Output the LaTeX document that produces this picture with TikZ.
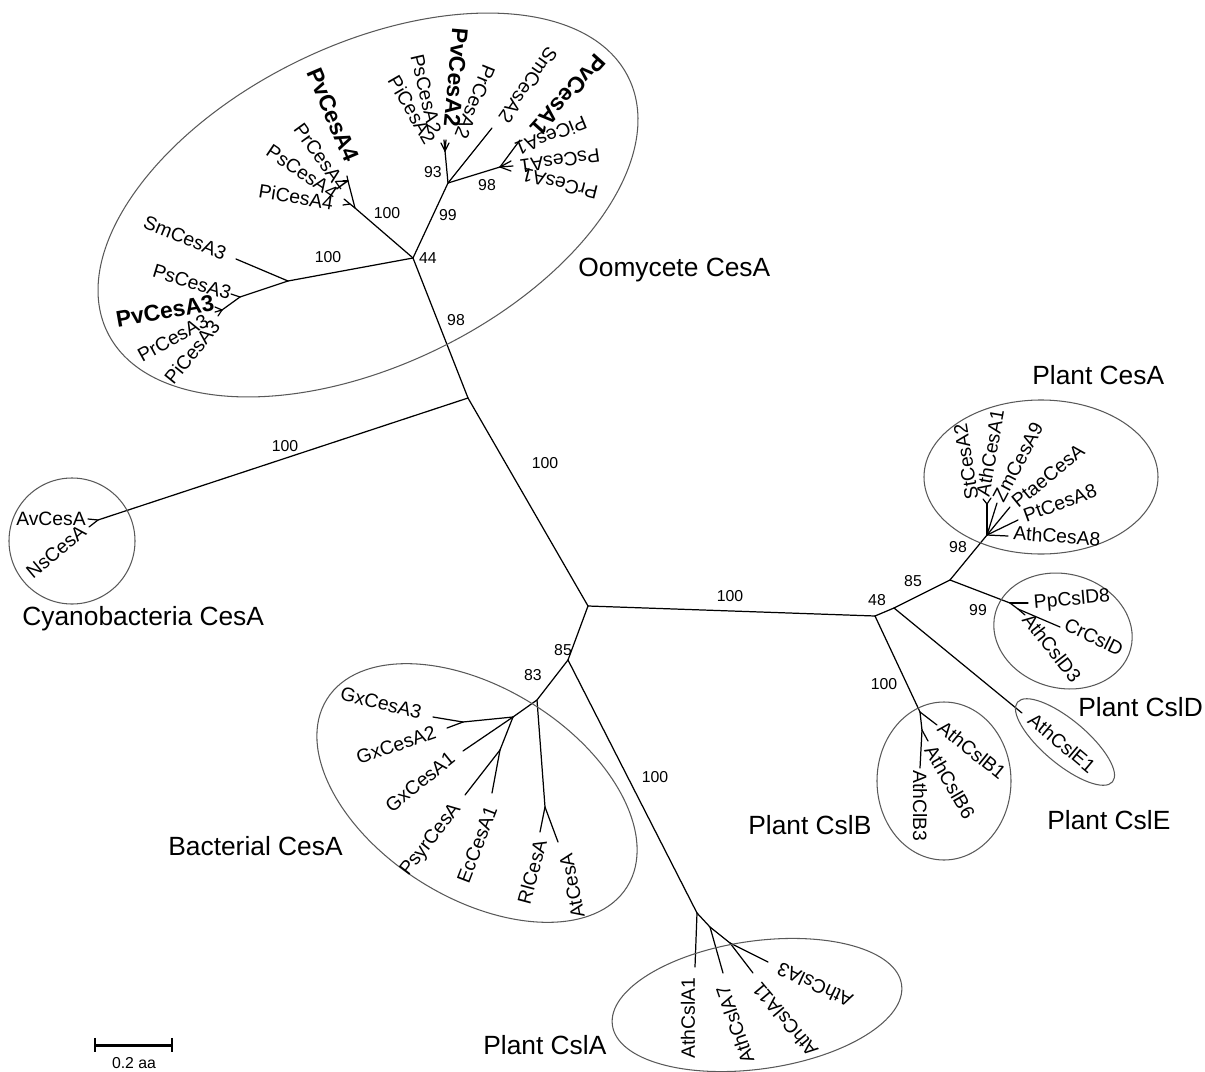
\documentclass[tikz,border=0pt]{standalone}
\usepackage{fontspec}
\setmainfont{Liberation Sans}

\tikzset{
  branch/.style={line width=0.7pt, line cap=round, line join=round},
  clade/.style={black!65, line width=0.6pt},
  leaf/.style={inner sep=0pt, font=\fontsize{11}{11}\selectfont},
  leafbold/.style={inner sep=0pt, font=\fontsize{13}{13}\selectfont\bfseries},
  boot/.style={inner sep=0pt, font=\fontsize{9}{9}\selectfont},
  group/.style={inner sep=0pt, anchor=west, font=\fontsize{15}{15}\selectfont},
}

\begin{document}
\begin{tikzpicture}[x=0.02cm, y=-0.02cm]
    \useasboundingbox (0,0) rectangle (1205,1072);

    % 分岐点と末端
    \foreach \n/\x/\y in {C/588/606, U/468/398, O/413/258, CY/98/520, tAv/88/519, tNs/89/527,
        S3/288/281, tSmA3/236/259, P3a/240/297, tPsA3/231/294, P3b/222/310, tPvA3/215/307, tPrA3/215/312, tPiA3/218/316,
        A4/355/208, A4a/348/181, tPvA4/347/176, tPrA4/343/181, A4b/350/204, tPsA4/344/199, tPiA4/343/205,
        A12/448/183, A2/445/151, tPiA2/441/143, tPsA2/444/140, tPvA2/446/140, tPrA2/449/143, tSmA2/492/128,
        B1/500/167, tPvA1/520/140, tPiA1/511/161, tPsA1/513/166, tPrA1/511/171,
        R1/875/616, R2/894/608, R85/950/580, PC/987/535, PCa/987/504, tStA2/983/499, tAthA1/991/498,
        tZmA9/997/503, tPtaeA/1010/507, tPtA8/1018/520, tAthA8/1008/536,
        DD/1010/603, tPpD8/1028/603, DDa/1018/609, tCrD/1060/627, tAthD3/1025/615,
        tE1/1022/713, CB1/920/712, tB1/937/725, CB2/922/730, tB6/928/741, tB3/920/768,
        D/568/660, B/537/700, G/513/717, Gx32/463/722, tGxA3/433/717, tGxA2/447/728, tGxA1/463/751,
        E/500/750, tPsyr/465/795, tEc/492/793, Rn/545/807, tRl/540/832, tAt/558/842,
        A1/697/913, tA1/695/967, A7n/710/927, tA7/723/973, A11n/730/943, tA11/753/973, tA3/768/962}
        \coordinate (\n) at (\x,\y);

    % 枝
    \foreach \a/\b in {C/U, U/O, U/CY, CY/tAv, CY/tNs,
        O/S3, S3/tSmA3, S3/P3a, P3a/tPsA3, P3a/P3b, P3b/tPvA3, P3b/tPrA3, P3b/tPiA3,
        O/A4, A4/A4a, A4a/tPvA4, A4a/tPrA4, A4/A4b, A4b/tPsA4, A4b/tPiA4,
        O/A12, A12/A2, A2/tPiA2, A2/tPsA2, A2/tPvA2, A2/tPrA2, A12/tSmA2,
        A12/B1, B1/tPvA1, B1/tPiA1, B1/tPsA1, B1/tPrA1,
        C/R1, R1/R2, R2/R85, R85/PC, PC/PCa, PCa/tStA2, PCa/tAthA1,
        PC/tZmA9, PC/tPtaeA, PC/tPtA8, PC/tAthA8,
        R85/DD, DD/tPpD8, DD/DDa, DDa/tCrD, DDa/tAthD3,
        R2/tE1, R1/CB1, CB1/tB1, CB1/CB2, CB2/tB6, CB2/tB3,
        C/D, D/B, B/G, G/Gx32, Gx32/tGxA3, Gx32/tGxA2, G/tGxA1, G/E, E/tPsyr, E/tEc,
        B/Rn, Rn/tRl, Rn/tAt,
        D/A1, A1/tA1, A1/A7n, A7n/tA7, A7n/A11n, A11n/tA11, A11n/tA3}
        \draw[branch] (\a) -- (\b);

    % クレードの楕円
    \draw[clade, rotate around={26:(368,205)}] (368,205) ellipse [x radius=290, y radius=160];
    \draw[clade] (72,541) circle [radius=63];
    \draw[clade, rotate around={-32:(477,793)}] (477,793) ellipse [x radius=177, y radius=105];
    \draw[clade, rotate around={8:(757,1005)}] (757,1005) ellipse [x radius=146, y radius=64];
    \draw[clade] (1041,477) ellipse [x radius=117, y radius=77];
    \draw[clade, rotate around={-15:(1063,631)}] (1063,631) ellipse [x radius=70, y radius=57];
    \draw[clade, rotate around={-40:(1065,742)}] (1065,742) ellipse [x radius=62, y radius=22];
    \draw[clade] (944,781) ellipse [x radius=67, y radius=79];

    % 配列名
    \foreach \x/\y/\a/\t in {185/238/-22/SmCesA3, 192/282/-17/PsCesA3, 173/338/29/PrCesA3, 192/352/51/PiCesA3,
        296/197/-9/PiCesA4, 302/172/-34/PsCesA4, 321/157/-54/PrCesA4,
        412/110/-60/PiCesA2, 426/94/-77/PsCesA2, 475/102/-112/PrCesA2, 528/85/-125/SmCesA2,
        551/136/-158/PiCesA1, 560/161/-172/PsCesA1, 560/184/166/PrCesA1,
        51/519/0/AvCesA, 56/552/40/NsCesA,
        381/703/-14/GxCesA3, 396/745/19/GxCesA2, 420/782/39/GxCesA1, 431/840/52/PsyrCesA,
        477/845/69/EcCesA1, 532/872/75/RlCesA, 572/886/101/AtCesA,
        688/1018/90/AthCslA1, 735/1025/109/AthCslA7, 785/1020/130/AthCslA11, 815/985/155/AthCslA3,
        966/462/99/StCesA2, 990/453/80/AthCesA1, 1018/462/62/ZmCesA9, 1048/476/39/PtaeCesA,
        1060/503/20/PtCesA8, 1057/536/-4/AthCesA8,
        1072/600/5/PpCslD8, 1094/637/-26/CrCslD, 1052/648/-52/AthCslD3,
        1062/743/-40/AthCslE1, 972/750/-39/AthCslB1, 950/782/-60/AthCslB6, 920/806/-90/AthClB3}
        \node[leaf, rotate=\a] (\t) at (\x,\y) {\t};

    \foreach \x/\y/\a/\t in {165/311/10/PvCesA3, 333/115/-67/PvCesA4, 456/78/-95/PvCesA2, 568/95/-132/PvCesA1}
        \node[leafbold, rotate=\a] (\t) at (\x,\y) {\t};

    % ブートストラップ値
    \foreach \x/\y/\t [count=\i] in {285/446/100, 545/463/100, 456/320/98, 428/258/44, 387/213/100,
        328/257/100, 448/215/99, 433/172/93, 487/185/98, 730/596/100, 563/650/85, 533/675/83,
        655/777/100, 877/600/48, 913/581/85, 958/547/98, 978/610/99, 884/684/100}
        \node[boot] (bs\i) at (\x,\y) {\t};

    % グループ名
    \node[group] (oomy) at (578,270) {Oomycete CesA};
    \node[group] (cyano) at (22,619) {Cyanobacteria CesA};
    \node[group] (bact) at (168,846) {Bacterial CesA};
    \node[group] (cslA) at (483,1045) {Plant CslA};
    \node[group] (pcesA) at (1032,375) {Plant CesA};
    \node[group] (cslD) at (1078,707) {Plant CslD};
    \node[group] (cslE) at (1047,820) {Plant CslE};
    \node[group] (cslB) at (748,825) {Plant CslB};

    % スケールバー
    \coordinate (sbL) at (95,1045);
    \coordinate (sbR) at (172,1045);
    \draw[line width=1.7pt] (sbL) -- (sbR);
    \draw[line width=1.7pt] ([yshift=4pt]sbL) -- ([yshift=-4pt]sbL);
    \draw[line width=1.7pt] ([yshift=4pt]sbR) -- ([yshift=-4pt]sbR);
    \node[boot] (sbLab) at (134,1063) {0.2 aa};
\end{tikzpicture}
\end{document}
